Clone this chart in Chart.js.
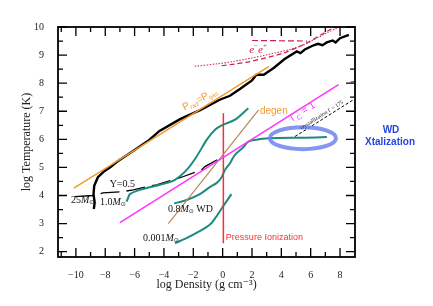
<!DOCTYPE html>
<html>
<head>
<meta charset="utf-8">
<script src="https://cdn.jsdelivr.net/npm/chart.js@4.4.0/dist/chart.umd.min.js"></script>
<style>
  body { margin: 0; background: #fff; }
  canvas { display: block; }
</style>
</head>
<body>
<canvas id="chart" width="433" height="306"></canvas>
<script>
// axis ticks
const xTickVals = [-10, -8, -6, -4, -2, 0, 2, 4, 6, 8];
const yTickVals = [2, 3, 4, 5, 6, 7, 8, 9, 10];

// 25 Msun track (black)
const star25Dens = [-8.78, -8.72, -8.8, -8.75, -8.5, -8.1, -7.68, -7.2, -6.0, -5.0, -4.3, -2.9, -1.5, -0.2, 0.5, 1.2, 2.0, 2.3, 2.8, 3.5, 4.2, 5.05, 5.3, 5.6, 6.2, 6.5, 6.8, 7.1, 7.5, 7.7, 8.0, 8.6];
const star25Temp = [3.52, 3.75, 4.05, 4.35, 4.65, 4.85, 5.0, 5.2, 5.62, 5.98, 6.3, 6.72, 7.05, 7.41, 7.55, 7.8, 8.1, 8.3, 8.3, 8.55, 8.85, 9.13, 9.07, 9.2, 9.35, 9.4, 9.35, 9.45, 9.52, 9.45, 9.6, 9.72];

// 1.0 Msun track (teal)
const sun10Dens = [-6.55, -6.45, -6.32, -5.64, -4.9, -4.27, -3.25, -2.45, -1.77, -1.09, -0.52, 0.04, 0.84, 1.75];
const sun10Temp = [3.78, 3.9, 4.05, 4.2, 4.3, 4.38, 4.56, 4.91, 5.39, 5.98, 6.34, 6.52, 6.7, 7.11];

// 0.8 Msun white dwarf (teal)
const wdDens = [-3.3, -2.45, -1.55, -0.87, -0.4, -0.07, 0.16, 0.5, 0.84, 1.41, 1.75, 2.2, 3.11, 5.6, 7.1];
const wdTemp = [3.72, 3.84, 4.05, 4.3, 4.45, 4.65, 4.91, 5.15, 5.45, 5.72, 5.92, 5.98, 6.04, 6.06, 6.08];

// 0.001 Msun (teal)
const jupDens = [-3.25, -2.5, -1.6, -0.9, -0.5, 0.04, 0.6];
const jupTemp = [2.3, 2.47, 2.72, 2.95, 3.2, 3.62, 4.05];

// Y=0.5 (black dashed)
const y05Dens = [-10.07, -8.84, -8.16, -6.8, -6.09, -4.96, -4.5, -3.37, -2.8, -1.44, -1.21, 0.04];
const y05Temp = [3.96, 4.0, 4.09, 4.14, 4.2, 4.34, 4.38, 4.56, 4.65, 4.91, 5.03, 5.39];

// crystallization Gamma = 175
const xtalDens = [4.93, 8.88];
const xtalTemp = [6.1, 7.4];

// straight boundaries
const pradDens = [-10.14, 3.16];
const pradTemp = [4.26, 8.6];
const gammaDens = [-7.0, 7.9];
const gammaTemp = [3.03, 7.95];
const degenDens = [-3.7, 2.45];
const degenTemp = [3.0, 7.05];
const pionDens = [0.05, 0.05];
const pionTemp = [2.3, 6.93];

// e- e+ pair region
const pairFlatDens = [2.0, 5.75];
const pairFlatTemp = [9.52, 9.5];
const pairDotDens = [-1.9, -0.2, 0.7, 3.0, 5.27, 7.1, 8.0];
const pairDotTemp = [8.6, 8.7, 8.77, 9.01, 9.31, 9.79, 10.02];
const pairDashDens = [-0.07, 0.8, 1.86, 4.13, 5.72, 7.3, 7.9];
const pairDashTemp = [8.62, 8.68, 8.77, 9.07, 9.43, 9.9, 10.02];
const pairTickDens = [8.72, 9.02];
const pairTickTemp = [8.04, 8.06];

// WD crystallization region (ellipse centre and half axes, data units)
const xtalZone = [5.47, 6.04, 2.25, 0.39];

const serif = '"Liberation Serif", "DejaVu Serif", serif';
const sans = '"Liberation Sans", "DejaVu Sans", sans-serif';

const ptsOf = (xs, ys) => xs.map((x, i) => ({ x: x, y: ys[i] }));

function line(xs, ys, color, width, dash, tension) {
    return {
        data: ptsOf(xs, ys),
        showLine: true,
        borderColor: color,
        backgroundColor: color,
        borderWidth: width,
        borderDash: dash || [],
        pointRadius: 0,
        tension: tension || 0,
        fill: false
    };
}

// draws pieces of text one after the other: [text, size, style, dy]
function rich(ctx, parts, x, y, color, angle, align) {
    ctx.save();
    ctx.translate(x, y);
    ctx.rotate(angle || 0);
    ctx.fillStyle = color;
    ctx.textBaseline = 'middle';
    ctx.textAlign = 'left';
    let w = 0;
    parts.forEach(p => {
        ctx.font = (p[2] || 'normal') + ' ' + p[1] + 'px ' + (p[4] || serif);
        w += ctx.measureText(p[0]).width;
    });
    let cx = align === 'center' ? -w / 2 : 0;
    parts.forEach(p => {
        ctx.font = (p[2] || 'normal') + ' ' + p[1] + 'px ' + (p[4] || serif);
        ctx.fillText(p[0], cx, p[3] || 0);
        cx += ctx.measureText(p[0]).width;
    });
    ctx.restore();
}

const frameTicks = {
    id: 'frameTicks',
    afterDatasetsDraw(chart) {
        const { ctx, chartArea: a, scales: { x, y } } = chart;
        ctx.save();
        ctx.strokeStyle = '#000';
        ctx.lineWidth = 1.3;
        for (let v = -11; v <= 8.5; v += 1) {
            const px = x.getPixelForValue(v);
            const len = v % 2 === 0 ? 9 : 5;
            ctx.beginPath();
            ctx.moveTo(px, a.bottom); ctx.lineTo(px, a.bottom - len);
            ctx.moveTo(px, a.top); ctx.lineTo(px, a.top + len);
            ctx.stroke();
        }
        for (let v = 2; v <= 10; v += 0.5) {
            const py = y.getPixelForValue(v);
            const len = v % 1 === 0 ? 9 : 5;
            ctx.beginPath();
            ctx.moveTo(a.left, py); ctx.lineTo(a.left + len, py);
            ctx.moveTo(a.right, py); ctx.lineTo(a.right - len, py);
            ctx.stroke();
        }
        ctx.lineWidth = 1.8;
        ctx.strokeRect(a.left, a.top, a.right - a.left, a.bottom - a.top);
        ctx.restore();
    }
};

const notes = {
    id: 'notes',
    afterDatasetsDraw(chart) {
        const { ctx, chartArea: a, scales: { x, y } } = chart;
        const X = v => x.getPixelForValue(v);
        const Y = v => y.getPixelForValue(v);

        // crystallization ellipse
        ctx.save();
        ctx.strokeStyle = 'rgba(110, 130, 240, 0.85)';
        ctx.lineWidth = 4;
        ctx.beginPath();
        ctx.ellipse(X(xtalZone[0]), Y(xtalZone[1]),
            X(xtalZone[0] + xtalZone[2]) - X(xtalZone[0]),
            Y(xtalZone[1]) - Y(xtalZone[1] + xtalZone[3]), 0, 0, Math.PI * 2);
        ctx.stroke();
        ctx.restore();

        const angOf = (xs, ys) => Math.atan2(Y(ys[1]) - Y(ys[0]), X(xs[1]) - X(xs[0]));

        rich(ctx, [['Y=0.5', 10]], X(-7.7), Y(4.38), '#111');
        rich(ctx, [['25', 10], ['M', 10, 'italic'], ['\u2299', 6, 'normal', 2, sans]], X(-10.34), Y(3.83), '#111');
        rich(ctx, [['1.0', 10], ['M', 10, 'italic'], ['\u2299', 6, 'normal', 2, sans]], X(-8.36), Y(3.75), '#111');
        rich(ctx, [['0.8', 10], ['M', 10, 'italic'], ['\u2299', 6, 'normal', 2, sans], [' WD', 10]], X(-3.73), Y(3.49), '#111');
        rich(ctx, [['0.001', 10], ['M', 10, 'italic'], ['\u2299', 6, 'normal', 2, sans]], X(-5.43), Y(2.47), '#111');

        rich(ctx, [['Pressure Ionization', 9, 'normal', 0, sans]], X(0.22), Y(2.49), '#ff3030');
        rich(ctx, [['degen', 10, 'normal', 0, sans]], X(2.54), Y(7.0), '#f29a2e');
        rich(ctx, [['P', 10, 'normal', 0, sans], ['rad', 6, 'normal', 3, sans], ['=P', 10, 'normal', 0, sans], ['gas', 6, 'normal', 3, sans]],
            X(-1.55), Y(7.42), '#f29a2e', angOf(pradDens, pradTemp) + 0.08, 'center');
        rich(ctx, [['\u0393', 10, 'normal', 0, sans], ['C', 7, 'normal', 3, sans], [' = 1', 10, 'normal', 0, sans]],
            X(5.47), Y(6.98), '#ff33ff', angOf(gammaDens, gammaTemp), 'center');
        rich(ctx, [['crystallization \u0393 = 175', 5.5]], X(6.75), Y(6.86), '#111', angOf(xtalDens, xtalTemp), 'center');
        rich(ctx, [['e', 11, 'italic'], ['\u2212', 7, 'normal', -4], ['e', 11, 'italic'], ['+', 7, 'normal', -4]],
            X(2.41), Y(9.19), '#c8234a', 0, 'center');

        // label outside the plot on the right
        ctx.save();
        ctx.fillStyle = '#2545e0';
        ctx.font = 'bold 10px ' + sans;
        ctx.textAlign = 'center';
        ctx.textBaseline = 'middle';
        ctx.fillText('WD', a.right + 36, 130);
        ctx.fillText('Xtalization', a.right + 35, 142);
        ctx.restore();
    }
};

const ctx = document.getElementById('chart').getContext('2d');

new Chart(ctx, {
    type: 'scatter',
    data: {
        datasets: [
            line(pairFlatDens, pairFlatTemp, '#c8234a', 1.2, [6, 3]),
            line(pairDotDens, pairDotTemp, '#d0305a', 1.1, [1.5, 1.5], 0.3),
            line(pairDashDens, pairDashTemp, '#c8234a', 1.2, [5, 3], 0.3),
            line(pairTickDens, pairTickTemp, '#c8234a', 1.2, [5, 3]),
            line(pradDens, pradTemp, '#f29a2e', 1.5),
            line(gammaDens, gammaTemp, '#ff33ff', 1.5),
            line(degenDens, degenTemp, '#b8875a', 1.2),
            line(pionDens, pionTemp, '#ff2a2a', 1.5),
            line(sun10Dens, sun10Temp, '#1f8a80', 2, null, 0.3),
            line(wdDens, wdTemp, '#1f8a80', 2, null, 0.3),
            line(jupDens, jupTemp, '#1f8a80', 2, null, 0.3),
            line(y05Dens, y05Temp, '#000', 1.3, [19, 7]),
            line(xtalDens, xtalTemp, '#000', 1, [3, 2]),
            line(star25Dens, star25Temp, '#000', 2.4)
        ]
    },
    options: {
        responsive: false,
        animation: false,
        layout: { padding: { top: 27, right: 78, left: 0, bottom: 0 } },
        plugins: { legend: { display: false }, tooltip: { enabled: false } },
        scales: {
            x: {
                type: 'linear',
                min: -11.22,
                max: 9.02,
                afterBuildTicks: s => { s.ticks = xTickVals.map(v => ({ value: v })); },
                afterFit: s => { s.height = 49; },
                grid: { display: false },
                border: { display: false },
                ticks: {
                    color: '#222',
                    padding: 4,
                    font: { family: serif, size: 10 },
                    callback: v => String(v).replace('-', '\u2212')
                },
                title: {
                    display: true,
                    text: 'log Density (g cm\u207B\u00B3)',
                    color: '#222',
                    font: { family: serif, size: 12 },
                    padding: { top: 0, bottom: 14 }
                }
            },
            y: {
                type: 'linear',
                min: 1.81,
                max: 10,
                afterBuildTicks: s => { s.ticks = yTickVals.map(v => ({ value: v })); },
                afterFit: s => { s.width = 58; },
                grid: { display: false },
                border: { display: false },
                ticks: {
                    color: '#222',
                    padding: 6,
                    font: { family: serif, size: 10 }
                },
                title: {
                    display: true,
                    text: 'log Temperature (K)',
                    color: '#222',
                    font: { family: serif, size: 12 },
                    padding: { top: 20, bottom: 0 }
                }
            }
        }
    },
    plugins: [frameTicks, notes]
});
</script>
</body>
</html>
